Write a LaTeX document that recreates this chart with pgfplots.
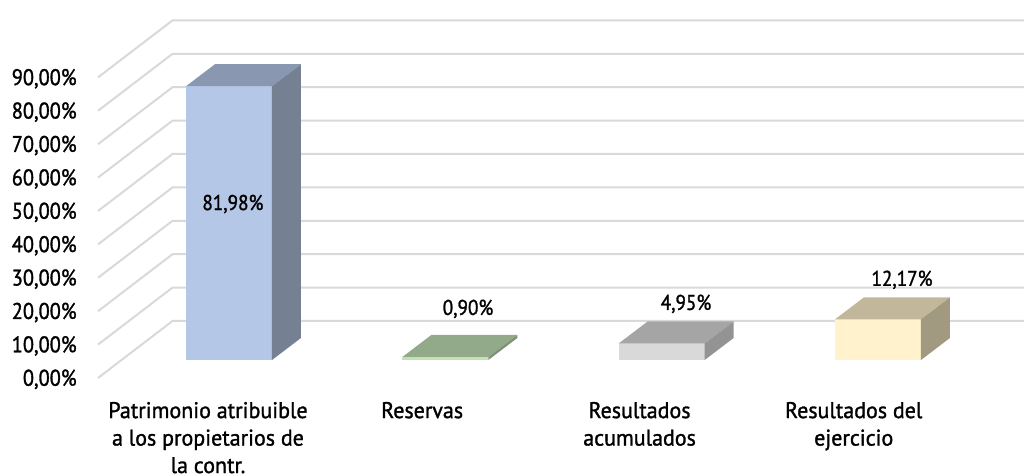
\documentclass[border=0pt]{standalone}
\usepackage{fontspec}
\setmainfont{PT Sans}
\newfontfamily\lab[FakeBold=1.3,FakeStretch=0.97]{PT Sans}
\newfontfamily\labn[FakeBold=1.3,FakeStretch=0.90]{PT Sans}
\usepackage{pgfplots}
\pgfplotsset{compat=1.18}
\definecolor{gridc}{RGB}{217,217,217}
\definecolor{bluef}{RGB}{180,199,231}
\definecolor{bluet}{RGB}{137,151,176}
\definecolor{blues}{RGB}{117,128,147}
\definecolor{greenf}{RGB}{197,224,180}
\definecolor{greent}{RGB}{147,170,138}
\definecolor{greens}{RGB}{125,146,116}
\definecolor{greyf}{RGB}{217,217,217}
\definecolor{greyt}{RGB}{165,165,165}
\definecolor{greys}{RGB}{147,147,147}
\definecolor{yelf}{RGB}{255,242,204}
\definecolor{yelt}{RGB}{194,183,155}
\definecolor{yels}{RGB}{161,154,128}
\begin{document}
\begin{tikzpicture}
% page is 1024x475 px at 0.75pt per px, axis corner sits at px (98,378)
\useasboundingbox (-73.5pt,-72.75pt) rectangle (694.5pt,283.5pt);
\begin{axis}[
  at={(0,0)}, anchor=south west,
  scale only axis, width=694.5pt, height=268.5pt,
  xmin=-0.5085, xmax=3.772, ymin=-5.39, ymax=101.8,
  clip=false,
  axis line style={draw=none},
  tick style={draw=none},
  xtick={0,0.99,1.995,2.985},
  xticklabels={Patrimonio atribuible\\a los propietarios de\\la contr.,Reservas,Resultados\\acumulados,Resultados del\\ejercicio},
  xticklabel style={align=center, anchor=north, yshift=-14.5pt, font=\lab\fontsize{17}{20.6}\selectfont},
  ytick={-5.39,4.61,14.61,24.61,34.61,44.61,54.61,64.61,74.61,84.61},
  yticklabels={{0,00\%},{10,00\%},{20,00\%},{30,00\%},{40,00\%},{50,00\%},{60,00\%},{70,00\%},{80,00\%},{90,00\%}},
  yticklabel style={anchor=east, xshift=-12.5pt, yshift=-1pt, font=\labn\fontsize{17}{18}\selectfont},
]
% floor and wall grid lines
\addplot[gridc, line width=1.5pt] coordinates {(-0.5085,-5.39) (-0.164,11.68) (3.772,11.68)};
\addplot[gridc, line width=1.5pt] coordinates {(-0.5085,4.61) (-0.164,21.68) (3.772,21.68)};
\addplot[gridc, line width=1.5pt] coordinates {(-0.5085,14.61) (-0.164,31.68) (3.772,31.68)};
\addplot[gridc, line width=1.5pt] coordinates {(-0.5085,24.61) (-0.164,41.68) (3.772,41.68)};
\addplot[gridc, line width=1.5pt] coordinates {(-0.5085,34.61) (-0.164,51.68) (3.772,51.68)};
\addplot[gridc, line width=1.5pt] coordinates {(-0.5085,44.61) (-0.164,61.68) (3.772,61.68)};
\addplot[gridc, line width=1.5pt] coordinates {(-0.5085,54.61) (-0.164,71.68) (3.772,71.68)};
\addplot[gridc, line width=1.5pt] coordinates {(-0.5085,64.61) (-0.164,81.68) (3.772,81.68)};
\addplot[gridc, line width=1.5pt] coordinates {(-0.5085,74.61) (-0.164,91.68) (3.772,91.68)};
\addplot[gridc, line width=1.5pt] coordinates {(-0.5085,84.61) (-0.164,101.68) (3.772,101.68)};
% Patrimonio 81.98
\addplot[fill=bluef, draw=none] coordinates {(-0.1017,0) (0.2958,0) (0.2958,81.98) (-0.1017,81.98)};
\addplot[fill=bluet, draw=none] coordinates {(-0.1017,81.98) (0.2958,81.98) (0.4298,88.57) (0.0323,88.57)};
\addplot[fill=blues, draw=none] coordinates {(0.2958,0) (0.4298,6.59) (0.4298,88.57) (0.2958,81.98)};
% Reservas 0.90
\addplot[fill=greenf, draw=none] coordinates {(0.8983,0) (1.2958,0) (1.2958,0.90) (0.8983,0.90)};
\addplot[fill=greent, draw=none] coordinates {(0.8983,0.90) (1.2958,0.90) (1.4298,7.49) (1.0323,7.49)};
\addplot[fill=greens, draw=none] coordinates {(1.2958,0) (1.4298,6.59) (1.4298,7.49) (1.2958,0.90)};
% Resultados acumulados 4.95
\addplot[fill=greyf, draw=none] coordinates {(1.8983,0) (2.2958,0) (2.2958,4.95) (1.8983,4.95)};
\addplot[fill=greyt, draw=none] coordinates {(1.8983,4.95) (2.2958,4.95) (2.4298,11.54) (2.0323,11.54)};
\addplot[fill=greys, draw=none] coordinates {(2.2958,0) (2.4298,6.59) (2.4298,11.54) (2.2958,4.95)};
% Resultados del ejercicio 12.17
\addplot[fill=yelf, draw=none] coordinates {(2.8983,0) (3.2958,0) (3.2958,12.17) (2.8983,12.17)};
\addplot[fill=yelt, draw=none] coordinates {(2.8983,12.17) (3.2958,12.17) (3.4298,18.76) (3.0323,18.76)};
\addplot[fill=yels, draw=none] coordinates {(3.2958,0) (3.4298,6.59) (3.4298,18.76) (3.2958,12.17)};
% data labels
\node[font=\labn\fontsize{16}{18}\selectfont] at (axis cs:0.115,46.7) {81,98\%};
\node[font=\labn\fontsize{16}{18}\selectfont] at (axis cs:1.2019,15.3) {0,90\%};
\node[font=\labn\fontsize{16}{18}\selectfont] at (axis cs:2.2096,16.8) {4,95\%};
\node[font=\labn\fontsize{16}{18}\selectfont] at (axis cs:3.208,24) {12,17\%};
\end{axis}
\end{tikzpicture}
\end{document}
